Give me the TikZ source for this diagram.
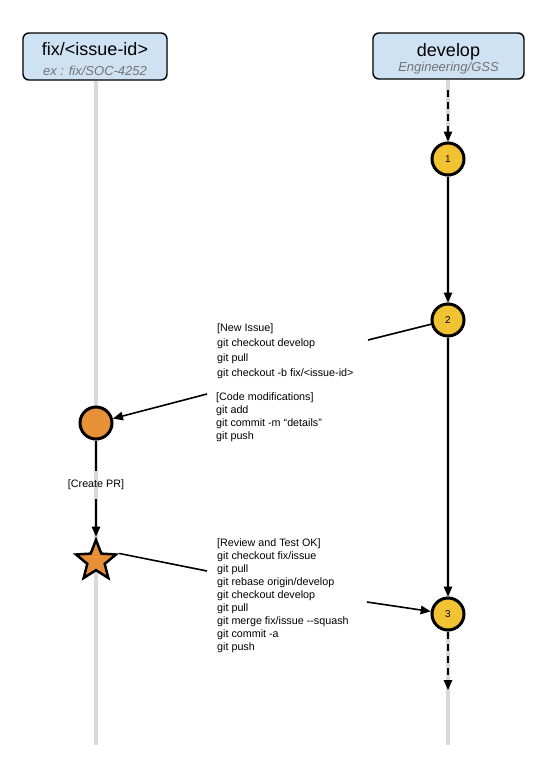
\documentclass[tikz,border=0pt]{standalone}
\usepackage{fontspec}
\setmainfont{Liberation Sans}
\usepackage{tikz}
\usetikzlibrary{arrows.meta, shapes.geometric}

\definecolor{boxblue}{HTML}{CFE2F3}
\definecolor{lifegray}{HTML}{D9D9D9}
\definecolor{subgray}{HTML}{737373}
\definecolor{commityellow}{HTML}{F1C232}
\definecolor{fixorange}{HTML}{E69138}

\tikzset{
  lifeline/.style={draw=lifegray, line width=4pt},
  branchbox/.style={draw=black, line width=1.4pt, rounded corners=6pt, fill=boxblue,
    inner sep=0pt},
  branchname/.style={anchor=base, inner sep=0pt, font=\fontsize{18}{18}\selectfont},
  branchsub/.style={anchor=base, inner sep=0pt, text=subgray,
    font=\fontsize{13}{13}\selectfont\itshape},
  commit/.style={circle, draw=black, line width=3pt, fill=commityellow,
    minimum size=32pt, inner sep=0pt, font=\fontsize{10}{10}\selectfont},
  fixcommit/.style={commit, fill=fixorange},
  prstar/.style={star, star points=5, star point ratio=2.3, draw=black, line width=2.5pt,
    line join=miter, fill=fixorange, minimum size=42pt, inner sep=0pt},
  cmdtext/.style={anchor=north west, align=left, inner sep=0pt},
  flow/.style={line width=1.6pt, -{Triangle[length=10pt,width=8.5pt]}},
  link/.style={line width=1.6pt},
  dashflow/.style={flow, dash pattern=on 7pt off 5pt}
}

\begin{document}
\begin{tikzpicture}[x=1pt, y=-1pt]
  \useasboundingbox (0,0) rectangle (557,758);

  % Branch headers
  \node[branchbox, minimum width=144pt, minimum height=47pt] (fixhead) at (95,56.5) {};
  \node[branchname] at (95,55) {fix/<issue-id>};
  \node[branchsub] at (95,75) {ex : fix/SOC-4252};
  \node[branchbox, minimum width=151pt, minimum height=46pt] (devhead) at (448.5,56) {};
  \node[branchname] at (448.5,56) {develop};
  \node[branchsub] at (448.5,71.5) {Engineering/GSS};

  % Lifelines
  \coordinate (fixend) at (96,745);
  \coordinate (devend) at (448,745);
  \draw[lifeline] (fixhead.south -| fixend) -- (fixend);
  \draw[lifeline] (devhead.south -| devend) -- (devend);

  % Commits on develop
  \node[commit] (c1) at (448,159) {1};
  \node[commit] (c2) at (448,320) {2};
  \node[commit] (c3) at (448,614) {3};
  \coordinate (devin) at (448,90);
  \coordinate (devout) at (448,690);
  \draw[dashflow] (devin) -- (c1);
  \draw[flow] (c1) -- (c2);
  \draw[flow] (c2) -- (c3);
  \draw[dashflow] (c3) -- (devout);

  % Fix branch
  \node[fixcommit] (fc) at (96,423) {};
  \node[inner ysep=8.5pt, inner xsep=0pt, font=\fontsize{10.75}{13}\selectfont] (createpr) at (96,485) {[Create PR]};
  \node[prstar] (pr) at (96,561) {};
  \draw[link] (fc) -- (createpr);
  \draw[flow] (createpr) -- (pr);

  % Command notes
  \node[cmdtext, font=\fontsize{10.75}{15}\selectfont] (newissue) at (217,324)
    {[New Issue]\\git checkout develop\\git pull\\git checkout -b fix/<issue-id>};
  \node[cmdtext, font=\fontsize{10.75}{13}\selectfont] (codemod) at (216,393)
    {[Code modifications]\\git add\\git commit -m “details”\\git push};
  \node[cmdtext, font=\fontsize{10.75}{12.9}\selectfont] (review) at (217,539)
    {[Review and Test OK]\\git checkout fix/issue\\git pull\\git rebase origin/develop\\
     git checkout develop\\git pull\\git merge fix/issue -{}-squash\\git commit -a\\git push};

  % Note connectors
  \coordinate (issuetail) at (368,340);
  \coordinate (codetail) at (207,394);
  \coordinate (reviewtail) at (207,571);
  \coordinate (mergetail) at (367,602);
  \draw[link] (issuetail) -- (c2);
  \draw[flow] (codetail) -- (fc);
  \draw[link] (pr.outer point 5) -- (reviewtail);
  \draw[flow] (mergetail) -- (c3);
\end{tikzpicture}
\end{document}
